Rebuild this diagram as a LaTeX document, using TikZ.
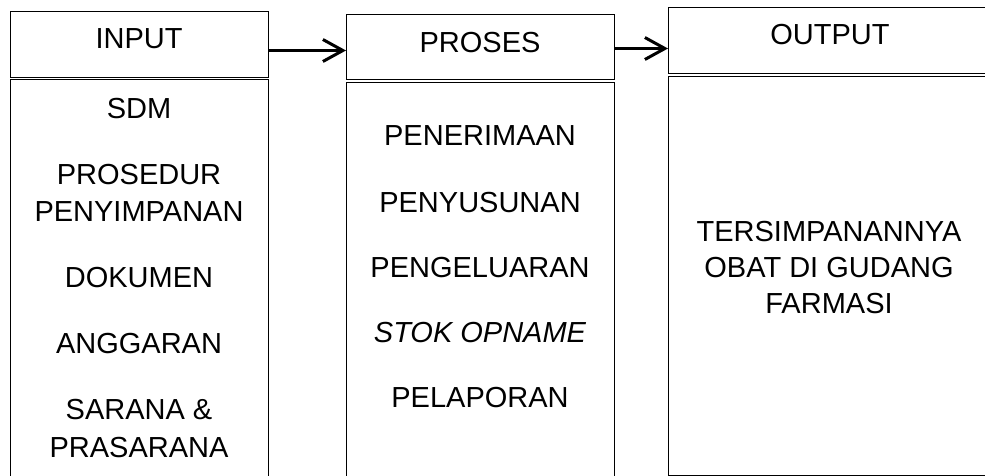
\documentclass[tikz,border=0pt]{standalone}
\usepackage{fontspec}
\setmainfont{Liberation Sans}
\usetikzlibrary{positioning,arrows.meta}

\begin{document}
\begin{tikzpicture}[
  x=1pt, y=-1pt,
  font=\fontsize{29pt}{37pt}\selectfont,
  box/.style={draw, line width=1pt, inner sep=0pt, anchor=north west},
  txt/.style={anchor=base, inner sep=0pt},
  arr/.style={-{Straight Barb[length=20pt, width=22pt]}, line width=3pt}]

\clip (0,0) rectangle (985,476);

% Input column.
\node[box, minimum width=258pt, minimum height=66pt] (inhead) at (10,11) {};
\node[box, minimum width=258pt, minimum height=410pt] (inbody) at (10,79) {};
\node[txt] (intitle) at (139,49) {INPUT};
\foreach \t/\y [count=\i] in {SDM/118.5, PROSEDUR/184.5, PENYIMPANAN/221.5,
    DOKUMEN/287.5, ANGGARAN/353.5, SARANA \&/419.5, PRASARANA/457.5}
  \node[txt] (in\i) at (139,\y) {\t};

% Process column.
\node[box, minimum width=268pt, minimum height=65pt] (prhead) at (346,14) {};
\node[box, minimum width=268pt, minimum height=410pt] (prbody) at (346,82) {};
\node[txt] (prtitle) at (480,52.5) {PROSES};
\foreach \t/\y [count=\i] in {PENERIMAAN/145.5, PENYUSUNAN/212.5,
    PENGELUARAN/277.5, {\itshape STOK OPNAME}/342.5, PELAPORAN/407.5}
  \node[txt] (pr\i) at (480,\y) {\t};

% Output column.
\node[box, minimum width=322pt, minimum height=66pt] (outhead) at (668,7) {};
\node[box, minimum width=322pt, minimum height=399pt] (outbody) at (668,76) {};
\node[txt] (outtitle) at (830,44.5) {OUTPUT};
\foreach \t/\y [count=\i] in {TERSIMPANANNYA/241.5, OBAT DI GUDANG/277.5,
    FARMASI/313.5}
  \node[txt] (out\i) at (829,\y) {\t};

% Flow between the columns.
\draw[arr] ([yshift=-6pt]inhead.east) -- ([yshift=-6pt]inhead.east -| prhead.west);
\draw[arr] ([yshift=-1.5pt]prhead.east) -- ([yshift=-1.5pt]prhead.east -| outhead.west);
\end{tikzpicture}
\end{document}
